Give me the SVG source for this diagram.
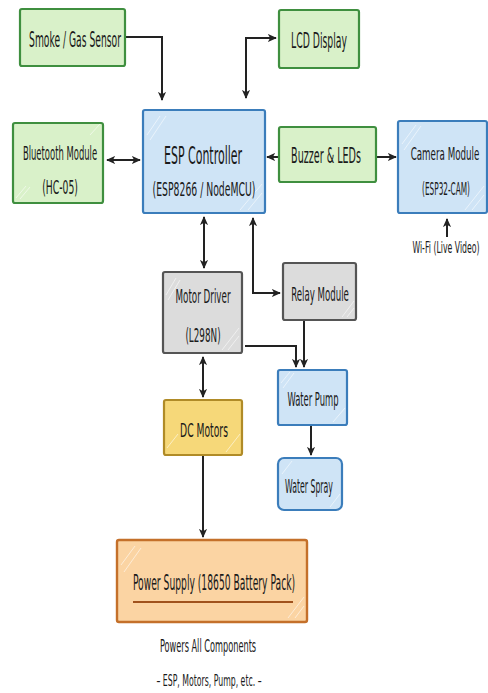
<svg xmlns="http://www.w3.org/2000/svg" width="488" height="693" viewBox="0 0 488 693">
<defs>
<marker id="ah" viewBox="0 0 10 10" refX="9" refY="5" markerWidth="9" markerHeight="9" markerUnits="userSpaceOnUse" orient="auto-start-reverse">
<path d="M0,0.5 L10,5 L0,9.5 L2.5,5 Z" fill="#222"/>
</marker>
<style>
text{font-family:"DejaVu Sans Condensed","Liberation Sans",sans-serif;fill:#1a1a1a;text-anchor:middle}
.t{font-size:21px}
.s{font-size:19px}
.big{font-size:25px}
.cam{font-size:18px}
.green{fill:#d9f1c9;stroke:#3f8f3f;stroke-width:2.2}
.blue{fill:#cfe4f6;stroke:#3b7dbb;stroke-width:2.2}
.gray{fill:#dcdcdc;stroke:#555;stroke-width:2.2}
.yellow{fill:#f6d879;stroke:#b08b27;stroke-width:2.2}
.orange{fill:#fbd4a3;stroke:#c4702a;stroke-width:2.4}
.hatch{stroke:#ffffff;stroke-opacity:0.55;stroke-width:1}
.conn{fill:none;stroke:#222;stroke-width:2}
</style>
</defs>
<rect width="488" height="693" fill="#ffffff"/>

<g id="connectors">
<path class="conn" d="M125,37 H162 V100" marker-end="url(#ah)"/>
<path class="conn" d="M246,98 V38 H276" marker-start="url(#ah)" marker-end="url(#ah)"/>
<path class="conn" d="M107,160 H140" marker-start="url(#ah)" marker-end="url(#ah)"/>
<path class="conn" d="M279,157 H267" marker-end="url(#ah)"/>
<path class="conn" d="M376,157 H396" marker-end="url(#ah)"/>
<path class="conn" d="M204,217 V268" marker-start="url(#ah)" marker-end="url(#ah)"/>
<path class="conn" d="M253,218 V293 H280" marker-start="url(#ah)" marker-end="url(#ah)"/>
<path class="conn" d="M245,346 H296 V367" marker-end="url(#ah)"/>
<path class="conn" d="M304,320 V367" marker-end="url(#ah)"/>
<path class="conn" d="M203,357 V397" marker-start="url(#ah)" marker-end="url(#ah)"/>
<path class="conn" d="M203,455 V537" marker-end="url(#ah)"/>
<path class="conn" d="M311,426 V455" marker-end="url(#ah)"/>
<path class="conn" d="M447,237 V219" stroke-width="1.5" marker-end="url(#ah)"/>
</g>

<g id="smoke">
<rect class="green" x="20" y="9" width="105" height="57" rx="2"/>
<text class="t" transform="translate(75,47) scale(0.55,1)" textLength="167" lengthAdjust="spacingAndGlyphs">Smoke / Gas Sensor</text>
</g>

<g id="lcd">
<rect class="green" x="279" y="10" width="80" height="58" rx="2"/>
<text class="t" transform="translate(319,48) scale(0.55,1)" textLength="102" lengthAdjust="spacingAndGlyphs">LCD Display</text>
</g>

<g id="bluetooth">
<rect class="green" x="13" y="123" width="90" height="80" rx="2"/>
<path class="hatch" d="M16,198 L26,186 M20,199 L30,187 M90,135 L100,124"/>
<text class="s" transform="translate(60,160) scale(0.55,1)" textLength="135" lengthAdjust="spacingAndGlyphs">Bluetooth Module</text>
<text class="s" transform="translate(60,194) scale(0.55,1)" textLength="65" lengthAdjust="spacingAndGlyphs">(HC-05)</text>
</g>

<g id="esp">
<rect class="blue" x="143" y="110" width="122" height="103" rx="2"/>
<path class="hatch" d="M147,135 L160,116 M150,140 L166,116 M240,210 L262,184 M248,210 L262,193"/>
<text class="big" transform="translate(203,164) scale(0.55,1)" textLength="142" lengthAdjust="spacingAndGlyphs">ESP Controller</text>
<text class="s" transform="translate(204,196) scale(0.55,1)" textLength="187" lengthAdjust="spacingAndGlyphs">(ESP8266 / NodeMCU)</text>
</g>

<g id="buzzer">
<rect class="green" x="279" y="127" width="97" height="55" rx="2"/>
<text class="t" transform="translate(326,163) scale(0.55,1)" textLength="127" lengthAdjust="spacingAndGlyphs">Buzzer &amp; LEDs</text>
</g>

<g id="camera">
<rect class="blue" x="398" y="121" width="89" height="92" rx="2"/>
<path class="hatch" d="M402,144 L416,125 M404,150 L421,126 M465,210 L484,186 M472,210 L484,195"/>
<text class="cam" transform="translate(445,160) scale(0.55,1)" textLength="125" lengthAdjust="spacingAndGlyphs">Camera Module</text>
<text class="cam" transform="translate(446,195) scale(0.55,1)" textLength="87" lengthAdjust="spacingAndGlyphs">(ESP32-CAM)</text>
</g>

<g id="wifi">
<text style="font-size:15px" transform="translate(446,253) scale(0.55,1)" textLength="122" lengthAdjust="spacingAndGlyphs">Wi-Fi (Live Video)</text>
</g>

<g id="motordriver">
<rect class="gray" x="163" y="272" width="79" height="81" rx="2"/>
<path class="hatch" d="M166,295 L176,278 M168,300 L180,280 M222,350 L239,328 M228,350 L239,336"/>
<text class="s" transform="translate(203,303) scale(0.55,1)" textLength="100" lengthAdjust="spacingAndGlyphs">Motor Driver</text>
<text class="s" transform="translate(203,342) scale(0.55,1)" textLength="64" lengthAdjust="spacingAndGlyphs">(L298N)</text>
</g>

<g id="relay">
<rect class="gray" x="283" y="263" width="73" height="57" rx="2"/>
<path class="hatch" d="M342,317 L354,301 M347,317 L354,308"/>
<text class="s" transform="translate(320,301) scale(0.55,1)" textLength="105" lengthAdjust="spacingAndGlyphs">Relay Module</text>
</g>

<g id="waterpump">
<rect class="blue" x="278" y="370" width="69" height="55" rx="2"/>
<path class="hatch" d="M281,383 L290,372 M283,388 L294,373 M333,422 L345,408"/>
<text class="s" transform="translate(313,406) scale(0.55,1)" textLength="93" lengthAdjust="spacingAndGlyphs">Water Pump</text>
</g>

<g id="waterspray">
<rect class="blue" x="278" y="458" width="64" height="52" rx="6"/>
<path class="hatch" d="M282,474 L292,461 M330,507 L340,494"/>
<text class="s" transform="translate(309,493) scale(0.55,1)" textLength="87" lengthAdjust="spacingAndGlyphs">Water Spray</text>
</g>

<g id="dcmotors">
<rect class="yellow" x="164" y="400" width="78" height="55" rx="2"/>
<path class="hatch" d="M167,448 L178,434 M226,452 L240,434"/>
<text class="s" transform="translate(204,437) scale(0.55,1)" textLength="87" lengthAdjust="spacingAndGlyphs">DC Motors</text>
</g>

<g id="power">
<rect class="orange" x="117" y="540" width="190" height="82" rx="2"/>
<path class="hatch" d="M121,565 L135,546 M124,572 L141,548 M288,618 L304,597 M295,618 L304,606"/>
<line x1="133" y1="602" x2="293" y2="602" stroke="#a0521d" stroke-width="2"/>
<text style="font-size:22px" transform="translate(214,590) scale(0.55,1)" textLength="295" lengthAdjust="spacingAndGlyphs">Power Supply (18650 Battery Pack)</text>
</g>

<g id="notes">
<text style="font-size:18px" transform="translate(208,652) scale(0.55,1)" textLength="175" lengthAdjust="spacingAndGlyphs">Powers All Components</text>
<text style="font-size:16px" transform="translate(209,686) scale(0.55,1)" textLength="191" lengthAdjust="spacingAndGlyphs">– ESP, Motors, Pump, etc. –</text>
</g>
</svg>
